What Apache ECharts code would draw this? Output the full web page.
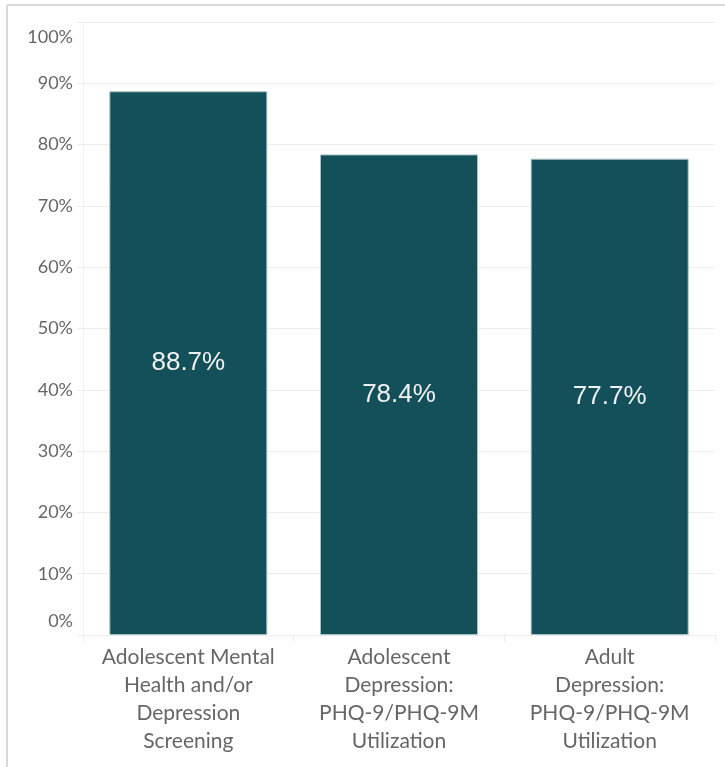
<!DOCTYPE html>
<html>
<head>
<meta charset="utf-8">
<script src="https://cdn.jsdelivr.net/npm/echarts@6/dist/echarts.min.js"></script>
<style>
  html, body { margin: 0; padding: 0; background: #ffffff; }
  #chart { width: 725px; height: 767px; }
</style>
</head>
<body>
<div id="chart"></div>
<script>
// Measure names (wrapped as shown under each bar)
const categories = [
  'Adolescent Mental\nHealth and/or\nDepression\nScreening',
  'Adolescent\nDepression:\nPHQ-9/PHQ-9M\nUtilization',
  'Adult\nDepression:\nPHQ-9/PHQ-9M\nUtilization'
];
// Rate for each measure, in percent
const rates = [88.7, 78.4, 77.7];
// Value axis range and step, in percent
const yMin = 0;
const yMax = 100;
const yStep = 10;

const chart = echarts.init(document.getElementById('chart'), null, { renderer: 'canvas' });

const axisFont = 'Lato, "Open Sans", sans-serif';
const labelGray = '#666666';
const lineGray = '#ececec';

chart.setOption({
  animation: false,
  backgroundColor: '#ffffff',
  graphic: [
    // outer frame (top and left edges)
    { type: 'line', shape: { x1: 7, y1: 5, x2: 725, y2: 5 }, style: { stroke: '#d9d9d9', lineWidth: 2 } },
    { type: 'line', shape: { x1: 7, y1: 5, x2: 7, y2: 767 }, style: { stroke: '#d9d9d9', lineWidth: 2 } }
  ],
  grid: { left: 83, right: 10, top: 22, bottom: 132, containLabel: false },
  xAxis: {
    type: 'category',
    data: categories,
    axisLine: { show: true, lineStyle: { color: lineGray, width: 1 } },
    axisTick: { show: true, length: 7, alignWithLabel: false, lineStyle: { color: lineGray } },
    axisLabel: {
      margin: 8,
      interval: 0,
      color: labelGray,
      fontFamily: axisFont,
      fontSize: 21,
      lineHeight: 28,
      align: 'center'
    },
    splitLine: { show: false }
  },
  yAxis: {
    type: 'value',
    min: yMin,
    max: yMax,
    interval: yStep,
    axisLine: { show: true, lineStyle: { color: '#f2f2f2' } },
    axisTick: { show: true, length: 6, lineStyle: { color: lineGray } },
    splitLine: { show: true, lineStyle: { color: lineGray, width: 1 } },
    axisLabel: {
      margin: 10,
      formatter: function (v) {
        if (v === yMax) return '{top|' + v + '%}';
        if (v === yMin) return '{bot|' + v + '%}';
        return '{n|' + v + '%}';
      },
      rich: {
        n:   { color: labelGray, fontFamily: axisFont, fontSize: 18 },
        top: { color: labelGray, fontFamily: axisFont, fontSize: 18, padding: [30, 0, 0, 0] },
        bot: { color: labelGray, fontFamily: axisFont, fontSize: 18, padding: [0, 0, 28, 0] }
      }
    }
  },
  series: [{
    type: 'bar',
    data: rates,
    barWidth: '75%',
    itemStyle: { color: '#14505a', borderColor: '#a8c3c8', borderWidth: 1 },
    label: {
      show: true,
      position: 'inside',
      formatter: function (p) { return p.value.toFixed(1) + '%'; },
      color: '#f2f2f2',
      fontFamily: '"Liberation Sans", Arial, sans-serif',
      fontSize: 26
    }
  }]
});
</script>
</body>
</html>
